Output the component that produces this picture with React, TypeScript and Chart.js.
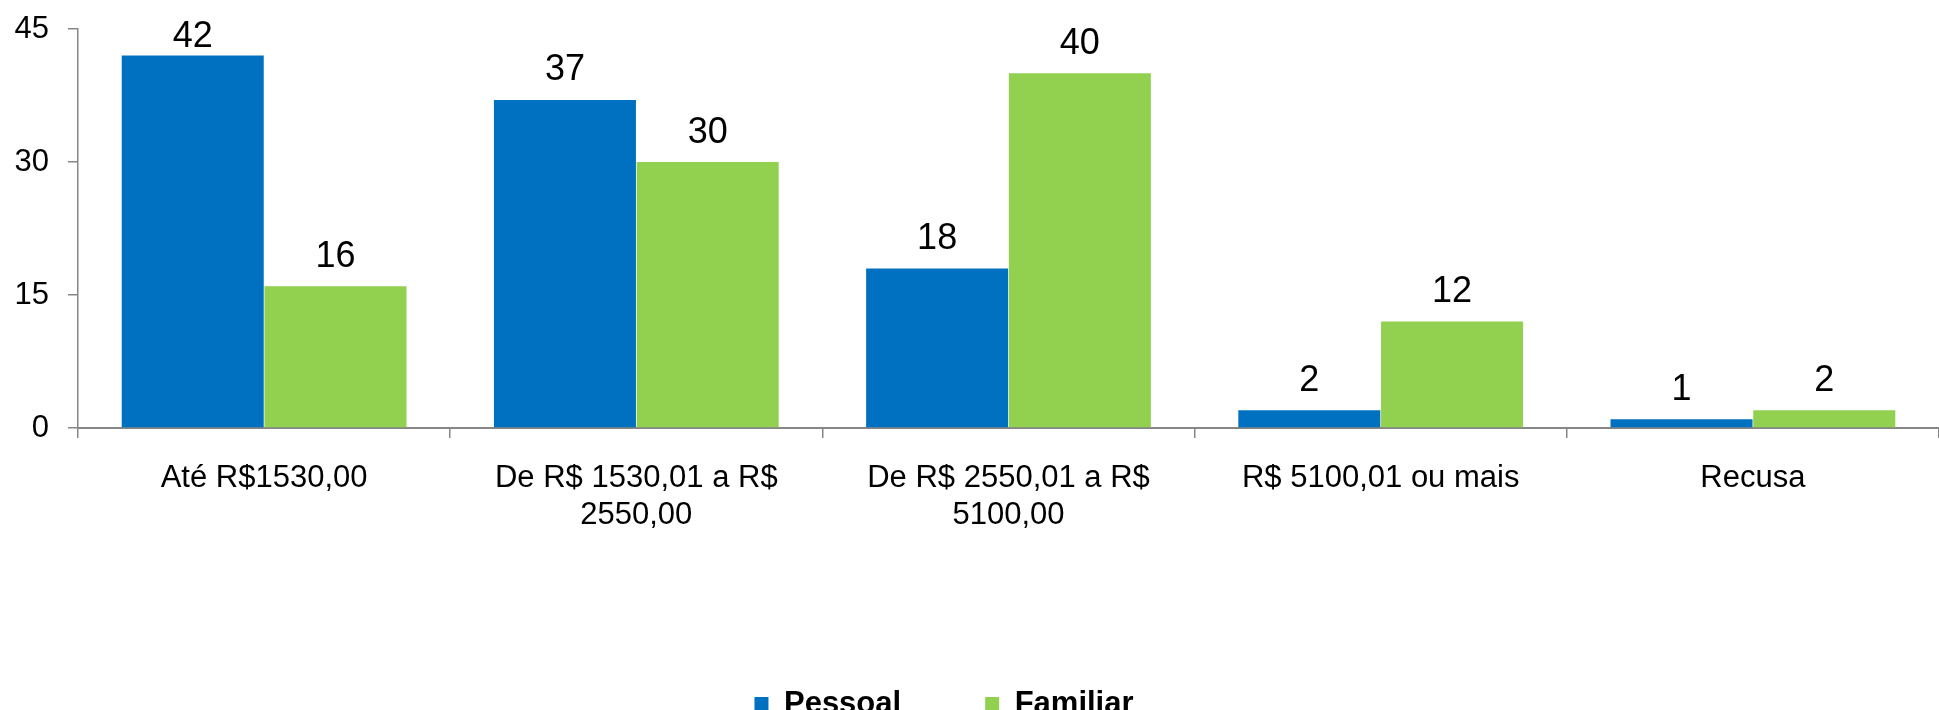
import React, { useEffect, useRef } from 'react';
import { Chart, registerables } from 'chart.js';

Chart.register(...registerables);

const categories: string[][] = [
  ['Até R$1530,00'],
  ['De R$ 1530,01 a R$', '2550,00'],
  ['De R$ 2550,01 a R$', '5100,00'],
  ['R$ 5100,01 ou mais'],
  ['Recusa'],
];
const seriesNames = ['Pessoal', 'Familiar'];
const pessoal = [42, 37, 18, 2, 1];
const familiar = [16, 30, 40, 12, 2];
const yTicks = [0, 15, 30, 45];

const FONT = '"Liberation Sans", Arial, Helvetica, sans-serif';
const AXIS_GRAY = '#868686';
const BLUE = '#0070C0';
const GREEN = '#92D050';

const valueLabels = {
  id: 'valueLabels',
  afterDatasetsDraw(chart: any) {
    const ctx = chart.ctx;
    ctx.save();
    ctx.font = `36px ${FONT}`;
    ctx.fillStyle = '#000';
    ctx.textAlign = 'center';
    ctx.textBaseline = 'alphabetic';
    chart.data.datasets.forEach((ds: any, i: number) => {
      const meta = chart.getDatasetMeta(i);
      meta.data.forEach((bar: any, j: number) => {
        const v = ds.data[j];
        const y = Math.max(bar.y - 19.5, chart.chartArea.top + 18);
        ctx.fillText(String(v), bar.x, y);
      });
    });
    ctx.restore();
  },
};

export default function App() {
  const ref = useRef<HTMLCanvasElement | null>(null);

  useEffect(() => {
    if (!ref.current) return;
    const chart = new Chart(ref.current, {
      type: 'bar',
      data: {
        labels: categories,
        datasets: [
          {
            label: seriesNames[0],
            data: pessoal,
            backgroundColor: BLUE,
            borderWidth: 0,
            categoryPercentage: 0.767,
            barPercentage: 0.995,
          },
          {
            label: seriesNames[1],
            data: familiar,
            backgroundColor: GREEN,
            borderWidth: 0,
            categoryPercentage: 0.767,
            barPercentage: 0.995,
          },
        ],
      },
      options: {
        responsive: false,
        animation: false,
        devicePixelRatio: 1,
        layout: { padding: { top: 29, left: -60, right: -9, bottom: -19.5 } },
        plugins: {
          tooltip: { enabled: false },
          legend: {
            position: 'bottom',
            labels: {
              boxWidth: 14,
              boxHeight: 14,
              padding: 84,
              color: '#000',
              font: { family: FONT, size: 31, weight: 'bold' },
            },
          },
        },
        scales: {
          x: {
            offset: true,
            grid: {
              display: true,
              drawOnChartArea: false,
              drawTicks: true,
              tickLength: 10,
              color: AXIS_GRAY,
              lineWidth: 1.5,
              offset: true,
            },
            border: { display: true, color: AXIS_GRAY, width: 2 },
            ticks: {
              color: '#000',
              font: { family: FONT, size: 31, lineHeight: 1.2 },
              padding: 22,
              maxRotation: 0,
              minRotation: 0,
              autoSkip: false,
            },
            afterFit: (scale: any) => {
              scale.height = 176.5;
              scale.paddingLeft = 0;
              scale.paddingRight = 0;
            },
          },
          y: {
            min: 0,
            max: 45,
            grid: {
              display: true,
              drawOnChartArea: false,
              drawTicks: true,
              tickLength: 10,
              color: AXIS_GRAY,
              lineWidth: 1.5,
            },
            border: { display: true, color: AXIS_GRAY, width: 1.5 },
            ticks: {
              color: '#000',
              font: { family: FONT, size: 31 },
              padding: 19,
            },
            afterBuildTicks: (scale: any) => {
              scale.ticks = yTicks.map((v) => ({ value: v }));
            },
            afterFit: (scale: any) => {
              scale.width = 138;
              scale.paddingTop = 0;
              scale.paddingBottom = 0;
            },
          },
        },
      },
      plugins: [valueLabels],
    } as any);
    return () => chart.destroy();
  }, []);

  return (
    <div style={{ position: 'absolute', left: 0, top: 0, width: 1939, height: 710, overflow: 'hidden' }}>
      <canvas ref={ref} width={1939} height={710} style={{ display: 'block', width: 1939, height: 710 }} />
    </div>
  );
}
